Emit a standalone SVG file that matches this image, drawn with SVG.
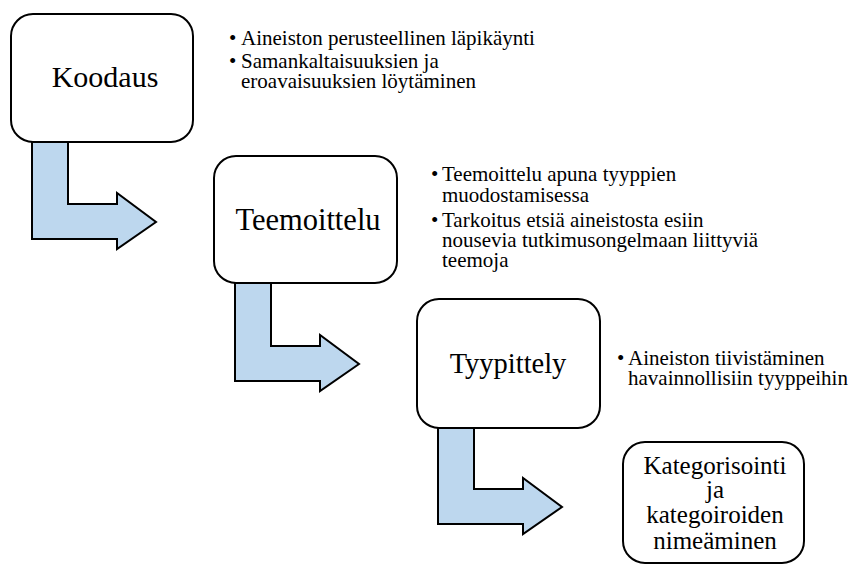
<svg xmlns="http://www.w3.org/2000/svg" width="853" height="566" viewBox="0 0 853 566">
<style>
.box{fill:#fff;stroke:#000;stroke-width:2}
.arr{fill:#BDD7EE;stroke:#000;stroke-width:2;stroke-linejoin:miter}
text{font-family:'Liberation Serif','Times New Roman',serif;fill:#000}
.title{text-anchor:middle}
.b text{font-size:21px}
</style>
<rect width="853" height="566" fill="#fff"/>
<g id="connectors">
<path class="arr" d="M32,140 L68,140 L68,204 L117,204 L117,193 L156,222 L117,249 L117,239 L32,239 Z"/>
<path class="arr" d="M235,282 L271,282 L271,346 L320,346 L320,335 L359,364 L320,391 L320,381 L235,381 Z"/>
<path class="arr" d="M438,426 L474,426 L474,489 L523,489 L523,478 L562,507 L523,534 L523,524 L438,524 Z"/>
</g>
<g id="koodaus">
<rect class="box" x="11" y="14" width="182" height="128" rx="22"/>
<text class="title" x="105" y="87" font-size="30">Koodaus</text>
</g>
<g id="koodaus-notes" class="b">
<text x="229" y="45">•<tspan x="241">Aineiston perusteellinen läpikäynti</tspan></text>
<text x="229" y="68">•<tspan x="241">Samankaltaisuuksien ja</tspan><tspan x="241" y="88">eroavaisuuksien löytäminen</tspan></text>
</g>
<g id="teemoittelu">
<rect class="box" x="214" y="156" width="183" height="127" rx="22"/>
<text class="title" x="308" y="230" font-size="30.5">Teemoittelu</text>
</g>
<g id="teemoittelu-notes" class="b">
<text x="431" y="181">•<tspan x="442">Teemoittelu apuna tyyppien</tspan><tspan x="442" y="202">muodostamisessa</tspan></text>
<text x="431" y="227">•<tspan x="442">Tarkoitus etsiä aineistosta esiin</tspan><tspan x="442" y="247">nousevia tutkimusongelmaan liittyviä</tspan><tspan x="442" y="267">teemoja</tspan></text>
</g>
<g id="tyypittely">
<rect class="box" x="417" y="299" width="183" height="129" rx="22"/>
<text class="title" x="508" y="373" font-size="28.5">Tyypittely</text>
</g>
<g id="tyypittely-notes" class="b">
<text x="617" y="365">•<tspan x="628">Aineiston tiivistäminen</tspan><tspan x="628" y="385">havainnollisiin tyyppeihin</tspan></text>
</g>
<g id="kategorisointi">
<rect class="box" x="623" y="442" width="181" height="121" rx="22"/>
<text class="title" font-size="25"><tspan x="715" y="474">Kategorisointi</tspan><tspan x="715" y="498">ja</tspan><tspan x="715" y="523">kategoiroiden</tspan><tspan x="715" y="549">nimeäminen</tspan></text>
</g>
</svg>
